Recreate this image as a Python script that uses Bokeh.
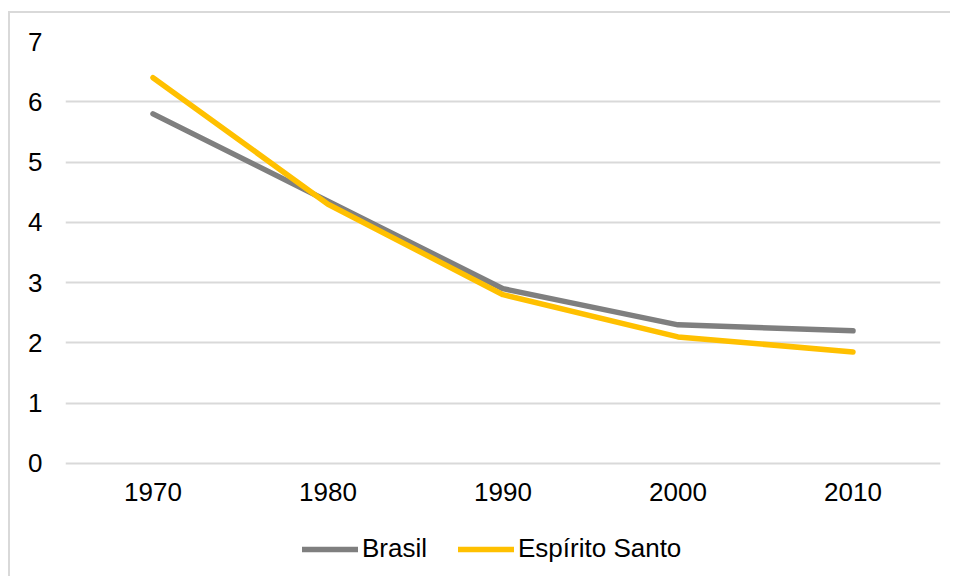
from bokeh.plotting import figure
from bokeh.models import FactorRange, Range1d, FixedTicker, Legend, LegendItem
from bokeh.embed import file_html
from bokeh.resources import INLINE

years = ["1970", "1980", "1990", "2000", "2010"]
brasil = [5.8, 4.35, 2.9, 2.3, 2.2]
espirito_santo = [6.4, 4.3, 2.8, 2.1, 1.85]
y_ticks = [0, 1, 2, 3, 4, 5, 6, 7]

FONT = "Liberation Sans"
FS = "26px"

# frame extends below y=0 to leave room for x labels and legend inside it
p = figure(
    width=942, height=565,
    x_range=FactorRange(*years, range_padding=0),
    y_range=Range1d(-1.9076, 7),
    output_backend="svg", toolbar_location=None,
    min_border_left=55, min_border_right=12, min_border_top=28, min_border_bottom=0,
)
p.margin = (11, 0, 0, 8)
p.styles = {"border-left": "2px solid #d9d9d9", "border-top": "2px solid #d9d9d9"}
p.outline_line_color = None
p.background_fill_color = "white"
p.border_fill_color = "white"

r1 = p.line(years, brasil, line_color="#7f7f7f", line_width=5.5, line_cap="round", line_join="round")
r2 = p.line(years, espirito_santo, line_color="#ffc000", line_width=5.5, line_cap="round", line_join="round")

p.xgrid.grid_line_color = None
p.ygrid.grid_line_color = "#d9d9d9"
p.ygrid.grid_line_width = 2
p.yaxis.ticker = FixedTicker(ticks=y_ticks)
p.ygrid.ticker = FixedTicker(ticks=y_ticks)

for ax in (p.xaxis, p.yaxis):
    ax.axis_line_color = None
    ax.major_tick_line_color = None
    ax.minor_tick_line_color = None
    ax.major_tick_out = 0
    ax.major_tick_in = 0
    ax.major_label_text_font = FONT
    ax.major_label_text_font_size = FS
    ax.major_label_text_color = "black"
p.xaxis.fixed_location = 0
p.xaxis.major_label_standoff = 20
p.yaxis.major_label_standoff = 23

legend = Legend(
    items=[LegendItem(label="Brasil", renderers=[r1]),
           LegendItem(label="Espírito Santo", renderers=[r2])],
    orientation="horizontal", location=(237, 14),
    glyph_width=56, glyph_height=20, label_standoff=4, spacing=31,
    padding=0, margin=0, border_line_color=None, background_fill_alpha=0,
    label_text_font=FONT, label_text_font_size=FS, label_text_color="black",
)
p.add_layout(legend, "center")

open("out.html", "w").write(file_html(p, INLINE))
